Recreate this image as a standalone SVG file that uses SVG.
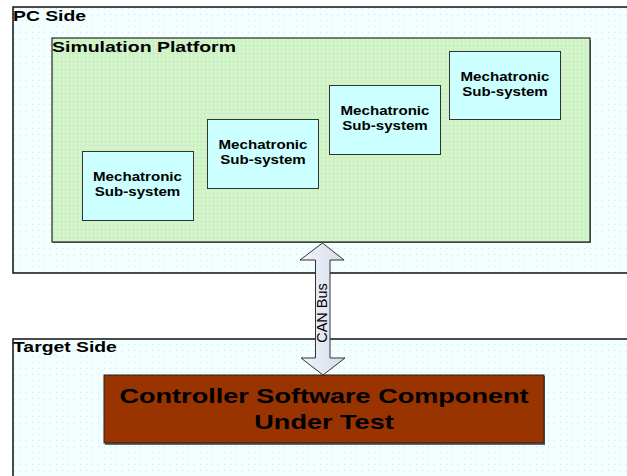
<svg xmlns="http://www.w3.org/2000/svg" width="627" height="476" viewBox="0 0 627 476">
<defs>
<pattern id="dotsBlue" width="6" height="6" patternUnits="userSpaceOnUse">
<rect width="6" height="6" fill="#f3fefe"/>
<rect x="2" y="2" width="1" height="1" fill="#c9e3ea"/>
</pattern>
<pattern id="dotsGreen" width="4" height="4" patternUnits="userSpaceOnUse">
<rect width="4" height="4" fill="#d0f4c8"/>
<rect x="1" y="1" width="1" height="1" fill="#bde8bb"/>
<rect x="3" y="3" width="1" height="1" fill="#def8d8"/>
</pattern>
<linearGradient id="arrowFill" x1="0" y1="0" x2="1" y2="0">
<stop offset="0" stop-color="#f2f4fa"/>
<stop offset="1" stop-color="#d6dcec"/>
</linearGradient>
</defs>
<style>
.lbl{font-family:"Liberation Sans",Arial,sans-serif;font-weight:bold;fill:#000}
.sub{fill:#ccffff;stroke:#333;stroke-width:1}
.subt{font-family:"Liberation Sans",Arial,sans-serif;font-weight:bold;font-size:12px;fill:#000;text-anchor:middle}
</style>
<g id="pc-side">
<rect x="13" y="7" width="630" height="266" fill="url(#dotsBlue)" stroke="#111" stroke-width="1.5"/>
<text class="lbl" transform="translate(13,21) scale(1.29,1)" font-size="15">PC Side</text>
</g>
<g id="simulation-platform">
<rect x="53" y="40" width="538" height="203" fill="#888"/>
<rect x="52" y="38" width="538" height="204" fill="url(#dotsGreen)" stroke="#000" stroke-width="1"/>
<text class="lbl" transform="translate(52,52) scale(1.3,1)" font-size="15">Simulation Platform</text>
</g>
<g id="subsystem-1">
<rect class="sub" x="82.5" y="151.5" width="111" height="69"/>
<text class="subt" transform="translate(137.5,181) scale(1.26,1)">Mechatronic</text>
<text class="subt" transform="translate(137.5,196) scale(1.26,1)">Sub-system</text>
</g>
<g id="subsystem-2">
<rect class="sub" x="207.5" y="119.5" width="111" height="69"/>
<text class="subt" transform="translate(263,149) scale(1.26,1)">Mechatronic</text>
<text class="subt" transform="translate(263,164) scale(1.26,1)">Sub-system</text>
</g>
<g id="subsystem-3">
<rect class="sub" x="329.5" y="85.5" width="111" height="69"/>
<text class="subt" transform="translate(385,115) scale(1.26,1)">Mechatronic</text>
<text class="subt" transform="translate(385,130) scale(1.26,1)">Sub-system</text>
</g>
<g id="subsystem-4">
<rect class="sub" x="449.5" y="51.5" width="111" height="68"/>
<text class="subt" transform="translate(505,81) scale(1.26,1)">Mechatronic</text>
<text class="subt" transform="translate(505,96) scale(1.26,1)">Sub-system</text>
</g>
<g id="target-side">
<rect x="13" y="339" width="630" height="150" fill="url(#dotsBlue)" stroke="#111" stroke-width="1.5"/>
<text class="lbl" transform="translate(13,352) scale(1.29,1)" font-size="15">Target Side</text>
</g>
<g id="controller">
<rect x="105" y="376" width="440" height="69" fill="#666"/>
<rect x="104" y="375" width="440" height="68" fill="#993300" stroke="#222" stroke-width="1"/>
<text class="lbl" transform="translate(324,403) scale(1.29,1)" font-size="21" text-anchor="middle">Controller Software Component</text>
<text class="lbl" transform="translate(324,429) scale(1.29,1)" font-size="21" text-anchor="middle">Under Test</text>
</g>
<g id="connectors">
<path d="M322.5,243 L344,260 L330,260 L330,358 L345,358 L323,375 L301,358 L315.5,358 L315.5,260 L300,260 Z" fill="url(#arrowFill)" stroke="#333" stroke-width="1" stroke-linejoin="miter"/>
<text transform="translate(327,313) rotate(-90)" font-family="'Liberation Sans',Arial,sans-serif" font-size="14.5" text-anchor="middle" fill="#000">CAN Bus</text>
</g>
</svg>
